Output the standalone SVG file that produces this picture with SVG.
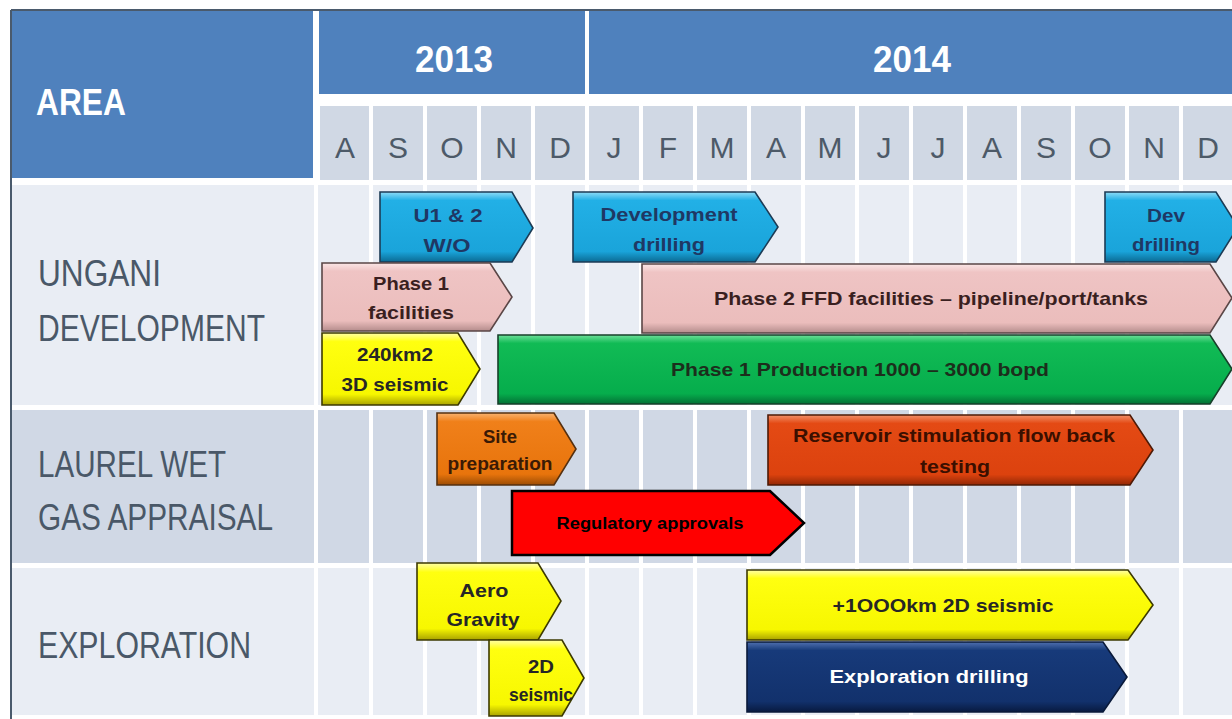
<svg xmlns="http://www.w3.org/2000/svg" width="1232" height="719" viewBox="0 0 1232 719">
<defs>
<style>
.hdr{fill:#4f81bd}
.yr{font-family:"Liberation Sans",Arial,sans-serif;font-weight:bold;font-size:36px;fill:#ffffff;text-anchor:middle}
.mon{font-family:"Liberation Sans",Arial,sans-serif;font-size:30px;fill:#4d5a68;text-anchor:middle}
.mcell{fill:#d0d8e4}
.lite{fill:#e9edf4}
.dark{fill:#d0d8e5}
.lbl{font-family:"Liberation Sans",Arial,sans-serif;font-size:36px;fill:#4a5868}
.sep{stroke:#ffffff;stroke-width:4}
.bar{stroke-width:1.6;stroke-linejoin:miter}
.bt{font-family:"Liberation Sans",Arial,sans-serif;font-weight:bold;font-size:19px;text-anchor:middle}
.blue{fill:url(#gBlue);stroke:#1c3b55}
.pink{fill:url(#gPink);stroke:#5a4646}
.yel{fill:url(#gYel);stroke:#3d3a00}
.grn{fill:url(#gGrn);stroke:#17402a}
.org{fill:url(#gOrg);stroke:#553010}
.rorg{fill:url(#gROrg);stroke:#4e1a06}
.navy{fill:url(#gNavy);stroke:#0a1a3a}
.red{fill:#ff0000;stroke:#000000;stroke-width:2.5}
.tBlue{fill:#1f3864}.tPink{fill:#3a1f1f}.tYel{fill:#262626}.tGrn{fill:#1c2e1c}.tOrg{fill:#3a1a05}.tROrg{fill:#3a0f00}.tWhite{fill:#ffffff}.tBlack{fill:#000000}
</style>
<linearGradient id="gBlue" x1="0" y1="0" x2="0" y2="1"><stop offset="0" stop-color="#8fdcf7"/><stop offset="0.12" stop-color="#22b0e6"/><stop offset="0.85" stop-color="#1aa4da"/><stop offset="1" stop-color="#0b6a93"/></linearGradient>
<linearGradient id="gPink" x1="0" y1="0" x2="0" y2="1"><stop offset="0" stop-color="#fae6e6"/><stop offset="0.12" stop-color="#efc4c4"/><stop offset="0.85" stop-color="#ebbdbc"/><stop offset="1" stop-color="#b48c8c"/></linearGradient>
<linearGradient id="gYel" x1="0" y1="0" x2="0" y2="1"><stop offset="0" stop-color="#ffffa8"/><stop offset="0.12" stop-color="#ffff10"/><stop offset="0.85" stop-color="#f7f700"/><stop offset="1" stop-color="#a9a300"/></linearGradient>
<linearGradient id="gGrn" x1="0" y1="0" x2="0" y2="1"><stop offset="0" stop-color="#6ee09a"/><stop offset="0.12" stop-color="#11bb55"/><stop offset="0.85" stop-color="#06ad4c"/><stop offset="1" stop-color="#037035"/></linearGradient>
<linearGradient id="gOrg" x1="0" y1="0" x2="0" y2="1"><stop offset="0" stop-color="#f8b370"/><stop offset="0.12" stop-color="#f0801a"/><stop offset="0.85" stop-color="#e8740c"/><stop offset="1" stop-color="#9c4c04"/></linearGradient>
<linearGradient id="gROrg" x1="0" y1="0" x2="0" y2="1"><stop offset="0" stop-color="#f2906a"/><stop offset="0.12" stop-color="#e44a14"/><stop offset="0.85" stop-color="#dc420e"/><stop offset="1" stop-color="#922806"/></linearGradient>
<linearGradient id="gNavy" x1="0" y1="0" x2="0" y2="1"><stop offset="0" stop-color="#4f70b0"/><stop offset="0.12" stop-color="#173a7a"/><stop offset="0.85" stop-color="#12316c"/><stop offset="1" stop-color="#081a40"/></linearGradient>
</defs>

<rect x="0" y="0" width="1232" height="719" fill="#ffffff"/>

<g id="frame">
<line x1="11" y1="10" x2="1232" y2="10" stroke="#4a5a6c" stroke-width="2"/>
<line x1="11" y1="10" x2="11" y2="719" stroke="#4a5a6c" stroke-width="2"/>
</g>

<g id="header">
<rect class="hdr" x="12" y="11" width="301" height="167"/>
<text class="yr" x="36" y="115" textLength="90" lengthAdjust="spacingAndGlyphs" style="text-anchor:start">AREA</text>
<rect class="hdr" x="319" y="11" width="266" height="83"/>
<rect class="hdr" x="589" y="11" width="643" height="83"/>
<text class="yr" x="454" y="72" textLength="78" lengthAdjust="spacingAndGlyphs">2013</text>
<text class="yr" x="912" y="72" textLength="78" lengthAdjust="spacingAndGlyphs">2014</text>
<rect class="mcell" x="320" y="106" width="912" height="74"/>
</g>

<g id="rows">
<rect class="lite" x="12" y="185" width="302" height="220"/>
<rect class="lite" x="318" y="185" width="914" height="220"/>
<rect class="dark" x="12" y="410" width="302" height="153"/>
<rect class="dark" x="318" y="410" width="914" height="153"/>
<rect class="lite" x="12" y="568" width="302" height="147"/>
<rect class="lite" x="318" y="568" width="914" height="147"/>
</g>

<g id="gridlines" class="sep">
<line x1="371" y1="105" x2="371" y2="715"/>
<line x1="425" y1="105" x2="425" y2="715"/>
<line x1="479" y1="105" x2="479" y2="715"/>
<line x1="533" y1="105" x2="533" y2="715"/>
<line x1="587" y1="105" x2="587" y2="715"/>
<line x1="641" y1="105" x2="641" y2="715"/>
<line x1="695" y1="105" x2="695" y2="715"/>
<line x1="749" y1="105" x2="749" y2="715"/>
<line x1="803" y1="105" x2="803" y2="715"/>
<line x1="857" y1="105" x2="857" y2="715"/>
<line x1="911" y1="105" x2="911" y2="715"/>
<line x1="965" y1="105" x2="965" y2="715"/>
<line x1="1019" y1="105" x2="1019" y2="715"/>
<line x1="1073" y1="105" x2="1073" y2="715"/>
<line x1="1127" y1="105" x2="1127" y2="715"/>
<line x1="1181" y1="105" x2="1181" y2="715"/>
</g>

<g id="months">
<text class="mon" x="345" y="158">A</text>
<text class="mon" x="398" y="158">S</text>
<text class="mon" x="452" y="158">O</text>
<text class="mon" x="506" y="158">N</text>
<text class="mon" x="560" y="158">D</text>
<text class="mon" x="614" y="158">J</text>
<text class="mon" x="668" y="158">F</text>
<text class="mon" x="722" y="158">M</text>
<text class="mon" x="776" y="158">A</text>
<text class="mon" x="830" y="158">M</text>
<text class="mon" x="884" y="158">J</text>
<text class="mon" x="938" y="158">J</text>
<text class="mon" x="992" y="158">A</text>
<text class="mon" x="1046" y="158">S</text>
<text class="mon" x="1100" y="158">O</text>
<text class="mon" x="1154" y="158">N</text>
<text class="mon" x="1208" y="158">D</text>
</g>

<g id="area-labels">
<text class="lbl" x="38" y="286" textLength="123" lengthAdjust="spacingAndGlyphs">UNGANI</text>
<text class="lbl" x="38" y="341" textLength="227" lengthAdjust="spacingAndGlyphs">DEVELOPMENT</text>
<text class="lbl" x="38" y="477" textLength="188" lengthAdjust="spacingAndGlyphs">LAUREL WET</text>
<text class="lbl" x="38" y="530" textLength="235" lengthAdjust="spacingAndGlyphs">GAS APPRAISAL</text>
<text class="lbl" x="38" y="658" textLength="213" lengthAdjust="spacingAndGlyphs">EXPLORATION</text>
</g>

<g id="u12wo">
<polygon class="bar blue" points="380,192 512,192 533,228 512,262 380,262"/>
<text class="bt tBlue" x="448" y="222" textLength="69" lengthAdjust="spacingAndGlyphs">U1 &amp; 2</text>
<text class="bt tBlue" x="447" y="252" textLength="47" lengthAdjust="spacingAndGlyphs">W/O</text>
</g>
<g id="dev-drilling-1">
<polygon class="bar blue" points="573,192 755,192 778,227 755,262 573,262"/>
<text class="bt tBlue" x="669" y="221" textLength="137" lengthAdjust="spacingAndGlyphs">Development</text>
<text class="bt tBlue" x="669" y="251" textLength="72" lengthAdjust="spacingAndGlyphs">drilling</text>
</g>
<g id="dev-drilling-2">
<polygon class="bar blue" points="1105,192 1216,192 1238,227 1216,262 1105,262"/>
<text class="bt tBlue" x="1166" y="222" textLength="38" lengthAdjust="spacingAndGlyphs">Dev</text>
<text class="bt tBlue" x="1166" y="251" textLength="68" lengthAdjust="spacingAndGlyphs">drilling</text>
</g>
<g id="phase1-facilities">
<polygon class="bar pink" points="322,263 490,263 512,297 490,331 322,331"/>
<text class="bt tPink" x="411" y="290" textLength="76" lengthAdjust="spacingAndGlyphs">Phase 1</text>
<text class="bt tPink" x="411" y="319" textLength="86" lengthAdjust="spacingAndGlyphs">facilities</text>
</g>
<g id="phase2-ffd">
<polygon class="bar pink" points="642,264 1210,264 1232,298 1210,333 642,333"/>
<text class="bt tPink" x="931" y="305" textLength="434" lengthAdjust="spacingAndGlyphs">Phase 2 FFD facilities – pipeline/port/tanks</text>
</g>
<g id="seismic-3d">
<polygon class="bar yel" points="322,333 458,333 480,369 458,405 322,405"/>
<text class="bt tYel" x="395" y="361" textLength="76" lengthAdjust="spacingAndGlyphs">240km2</text>
<text class="bt tYel" x="395" y="391" textLength="107" lengthAdjust="spacingAndGlyphs">3D seismic</text>
</g>
<g id="phase1-production">
<polygon class="bar grn" points="498,335 1210,335 1232,369 1210,404 498,404"/>
<text class="bt tGrn" x="860" y="376" textLength="378" lengthAdjust="spacingAndGlyphs">Phase 1 Production 1000 – 3000 bopd</text>
</g>
<g id="site-preparation">
<polygon class="bar org" points="437,413 554,413 576,449 554,485 437,485"/>
<text class="bt tOrg" x="500" y="443" textLength="34" lengthAdjust="spacingAndGlyphs">Site</text>
<text class="bt tOrg" x="500" y="470" textLength="105" lengthAdjust="spacingAndGlyphs">preparation</text>
</g>
<g id="reservoir-stimulation">
<polygon class="bar rorg" points="768,415 1130,415 1153,450 1130,485 768,485"/>
<text class="bt tROrg" x="954" y="442" textLength="322" lengthAdjust="spacingAndGlyphs">Reservoir stimulation flow back</text>
<text class="bt tROrg" x="955" y="473" textLength="70" lengthAdjust="spacingAndGlyphs">testing</text>
</g>
<g id="regulatory-approvals">
<polygon class="red" points="512,491 770,491 804,523 770,555 512,555"/>
<text class="bt tBlack" x="650" y="529" style="font-size:16px" textLength="187" lengthAdjust="spacingAndGlyphs">Regulatory approvals</text>
</g>
<g id="aero-gravity">
<polygon class="bar yel" points="417,563 538,563 561,601 538,640 417,640"/>
<text class="bt tYel" x="484" y="597" textLength="49" lengthAdjust="spacingAndGlyphs">Aero</text>
<text class="bt tYel" x="483" y="626" textLength="73" lengthAdjust="spacingAndGlyphs">Gravity</text>
</g>
<g id="seismic-2d">
<polygon class="bar yel" points="489,640 562,640 584,678 562,716 489,716"/>
<text class="bt tYel" x="541" y="673" textLength="26" lengthAdjust="spacingAndGlyphs">2D</text>
<text class="bt tYel" x="541" y="701" textLength="64" lengthAdjust="spacingAndGlyphs">seismic</text>
</g>
<g id="seismic-1000km">
<polygon class="bar yel" points="747,570 1128,570 1153,605 1128,640 747,640"/>
<text class="bt tYel" x="943" y="612" textLength="221" lengthAdjust="spacingAndGlyphs">+1OOOkm  2D seismic</text>
</g>
<g id="exploration-drilling">
<polygon class="bar navy" points="747,642 1103,642 1127,677 1103,712 747,712"/>
<text class="bt tWhite" x="929" y="683" textLength="199" lengthAdjust="spacingAndGlyphs">Exploration drilling</text>
</g>

<g id="connectors"/>
</svg>
